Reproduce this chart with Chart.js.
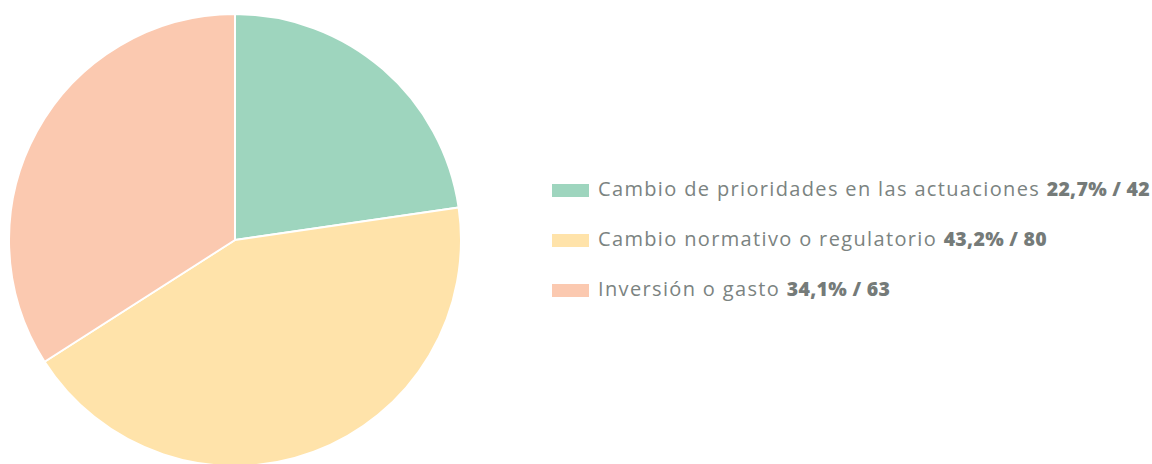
<!DOCTYPE html>
<html>
<head>
<meta charset="utf-8">
<script src="https://cdn.jsdelivr.net/npm/chart.js@4.4.0/dist/chart.umd.min.js"></script>
<style>
  html, body { margin: 0; padding: 0; background: #fff; width: 1152px; height: 464px; overflow: hidden; }
  #pieBox { position: absolute; left: 8px; top: 13px; width: 454px; height: 454px; }
  #legend { position: absolute; left: 552px; top: 175px; font-family: "Open Sans", sans-serif; font-size: 20px; letter-spacing: 1.35px; color: #7b8381; }
  .row { height: 50px; display: flex; align-items: flex-start; white-space: nowrap; }
  .box { width: 37px; height: 13px; margin-top: 9px; margin-right: 9px; }
  .row b { font-weight: 800; color: #757b79; font-size: 19.5px; letter-spacing: 0.3px; }
</style>
</head>
<body>
<div id="pieBox"><canvas id="pie"></canvas></div>
<div id="legend"></div>
<script>
// datos del gráfico
const categorias = ['Cambio de prioridades en las actuaciones', 'Cambio normativo o regulatorio', 'Inversión o gasto'];
const valores = [42, 80, 63];
const porcentajes = ['22,7%', '43,2%', '34,1%'];
const colores = ['#9ed5be', '#ffe3aa', '#fbc9b0'];

// leyenda en HTML (etiqueta normal + valor en negrita)
const legend = document.getElementById('legend');
categorias.forEach((cat, i) => {
    const row = document.createElement('div');
    row.className = 'row';
    row.innerHTML = `<span class="box" style="background:${colores[i]}"></span><span>${cat} <b>${porcentajes[i]} / ${valores[i]}</b></span>`;
    legend.appendChild(row);
});

new Chart(document.getElementById('pie'), {
    type: 'pie',
    data: {
        labels: categorias,
        datasets: [{ data: valores, backgroundColor: colores, borderColor: '#ffffff', borderWidth: 2 }]
    },
    options: {
        responsive: true,
        maintainAspectRatio: false,
        animation: false,
        plugins: { legend: { display: false }, tooltip: { enabled: false } }
    }
});
</script>
</body>
</html>
